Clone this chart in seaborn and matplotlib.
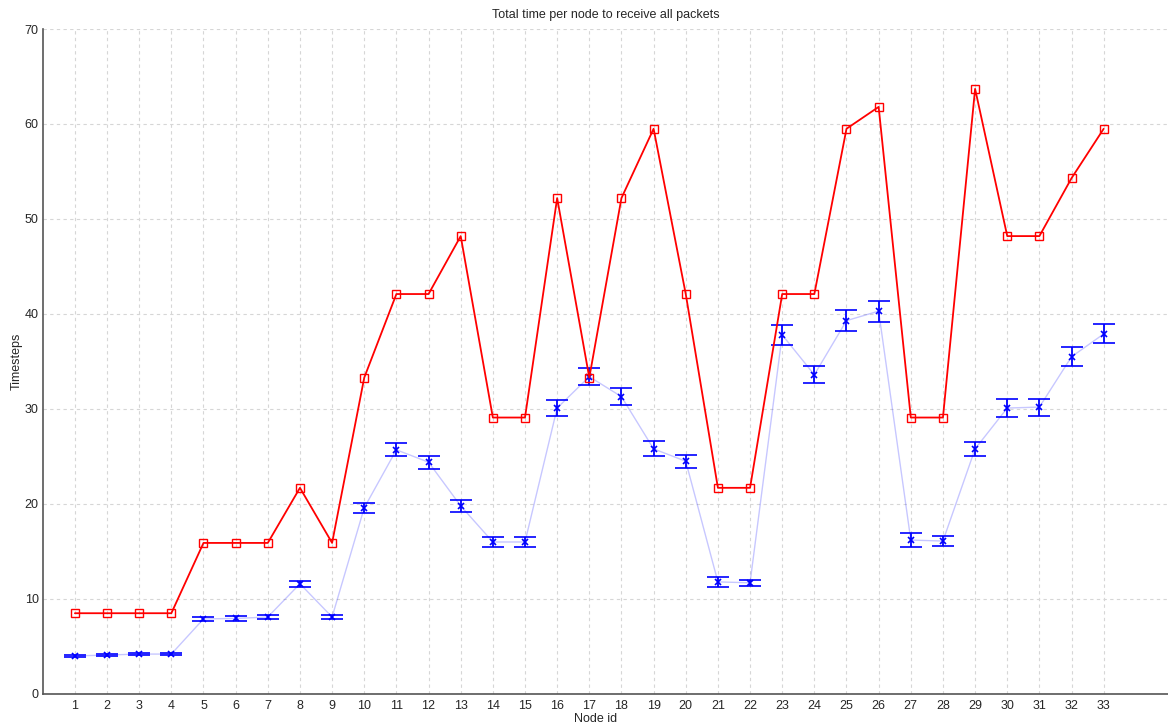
import matplotlib
matplotlib.use("Agg")
import matplotlib.pyplot as plt
import seaborn as sns
import pandas as pd

nodes = list(range(1, 34))

# Worst-case (analytical) total time per node
worst_time = [8.5, 8.5, 8.5, 8.5, 15.9, 15.9, 15.9, 21.7, 15.9, 33.3,
              42.1, 42.1, 48.2, 29.1, 29.1, 52.2, 33.3, 52.2, 59.5, 42.1,
              21.7, 21.7, 42.1, 42.1, 59.5, 61.8, 29.1, 29.1, 63.7, 48.2,
              48.2, 54.3, 59.5]

# Simulated mean total time per node and its spread
mean_time = [4.0, 4.1, 4.2, 4.2, 7.9, 7.95, 8.1, 11.6, 8.1, 19.6,
             25.7, 24.4, 19.8, 16.0, 16.0, 30.1, 33.4, 31.3, 25.8, 24.5,
             11.8, 11.7, 37.8, 33.6, 39.3, 40.3, 16.2, 16.1, 25.8, 30.1,
             30.2, 35.5, 37.9]
spread = [0.15, 0.15, 0.15, 0.15, 0.25, 0.25, 0.25, 0.3, 0.25, 0.5,
          0.7, 0.7, 0.6, 0.5, 0.5, 0.8, 0.9, 0.9, 0.8, 0.7,
          0.5, 0.3, 1.05, 0.9, 1.1, 1.1, 0.7, 0.5, 0.7, 0.9,
          0.9, 1.0, 1.0]

df = pd.DataFrame({"node": nodes, "worst": worst_time,
                   "mean": mean_time, "err": spread})

sns.set_style("white")
plt.rcParams["font.family"] = ["Liberation Sans", "DejaVu Sans"]

fig = plt.figure(figsize=(11.68, 7.25), dpi=100)
ax = fig.add_axes([0.0366, 0.0428, 0.9634, 0.9172])

# Simulated means: faint connecting line plus error bars
sns.lineplot(data=df, x="node", y="mean", ax=ax, color="#0000ff",
             alpha=0.22, linewidth=1.0, zorder=2)
ax.errorbar(df["node"], df["mean"], yerr=df["err"], fmt="x",
            color="#0000ff", ecolor="#0000ff", elinewidth=1.3,
            capsize=7.8, capthick=1.3, markersize=4, markeredgewidth=1.2,
            zorder=3)

# Worst-case line with hollow square markers
sns.lineplot(data=df, x="node", y="worst", ax=ax, color="#ff0000",
             linewidth=1.3, marker="s", markersize=5.5,
             markerfacecolor="none", markeredgecolor="#ff0000",
             markeredgewidth=1.0, zorder=4)

ax.set_xlim(0, 35)
ax.set_ylim(0, 70)
ax.set_xticks(nodes)
ax.set_yticks(range(0, 71, 10))
ax.tick_params(axis="both", direction="in", length=9, width=1.2,
               labelsize=9, color="#222222")
ax.tick_params(axis="x", pad=4)
ax.tick_params(axis="y", pad=3)
ax.grid(True, linestyle=(0, (3, 3)), color="#d6d6d6", linewidth=0.8)
ax.set_axisbelow(True)

for side in ("top", "right"):
    ax.spines[side].set_visible(False)
for side in ("left", "bottom"):
    ax.spines[side].set_color("#555555")
    ax.spines[side].set_linewidth(1.2)

ax.set_title("Total time per node to receive all packets", fontsize=9, pad=8)
ax.set_xlabel("Node id", fontsize=9)
ax.set_ylabel("Timesteps", fontsize=9)
ax.xaxis.set_label_coords(0.4913, -0.028)
ax.yaxis.set_label_coords(-0.018, 0.5)

fig.savefig("out.png", dpi=100)
